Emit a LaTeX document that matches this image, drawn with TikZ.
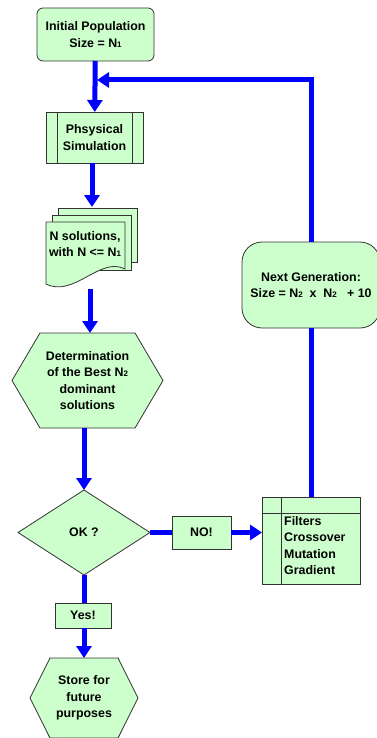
\documentclass[tikz,border=0pt]{standalone}
\usepackage{fontspec}
\setmainfont{Liberation Sans}
\usetikzlibrary{arrows.meta}
\usetikzlibrary{shapes}
\definecolor{boxgreen}{HTML}{CCFFCC}
\definecolor{flowblue}{HTML}{0000FF}
\newcommand{\nsub}[1]{{\fontsize{8pt}{8pt}\selectfont #1}}

\begin{document}
\begin{tikzpicture}[x = 1pt, y = -1pt, font=\bfseries\fontsize{12.4pt}{16.5pt}\selectfont]
	\tikzstyle{boxStyle} = [draw = black!80, line width = 0.8pt, fill = boxgreen, align = center, inner sep = 0pt, outer sep = 0pt]
	\tikzstyle{hexStyle} = [boxStyle, shape = signal, signal to = west and east]
	\tikzstyle{flowStyle} = [draw = flowblue, line width = 5pt]
	\tikzstyle{arrowStyle} = [flowStyle, -{Triangle[length = 12pt, width = 15pt]}]
	\useasboundingbox (0,0) rectangle (377,738);
	% boxes
	\node[boxStyle, rounded corners = 6pt, minimum width = 117pt, minimum height = 53pt] (init) at (95.5,34.5) {Initial Population\\Size = N\nsub{1}};
	\node[boxStyle, minimum width = 97pt, minimum height = 51pt] (sim) at (94.5,137.5) {Phsysical\\Simulation};
	\draw[black!80, line width = 0.8pt] ([xshift = 11pt]sim.north west) -- ([xshift = 11pt]sim.south west);
	\draw[black!80, line width = 0.8pt] ([xshift = -11pt]sim.north east) -- ([xshift = -11pt]sim.south east);
	\draw[boxStyle] (58,208) rectangle (137,262);
	\draw[boxStyle] (52,215) rectangle (131,270);
	\draw[boxStyle] (46,222) -- (125,222) -- (125,269) .. controls (100,256) and (74,298) .. (46,284) -- cycle;
	\node[align = center] (sols) at (85,244) {N solutions,\\with N <= N\nsub{1}};
	\coordinate (solsTop) at (92,207);
	\coordinate (solsBot) at (90,289);
	\node[hexStyle, signal pointer angle = 119, minimum width = 151pt, minimum height = 95pt] (best) at (87.5,380.5) {Determination\\of the Best N\nsub{2}\\dominant\\solutions};
	\node[boxStyle, shape = diamond, minimum width = 132pt, minimum height = 85pt] (ok) at (84,532.5) {OK ?};
	\node[boxStyle, minimum width = 59pt, minimum height = 33pt] (no) at (201.5,532.5) {NO!};
	\node[boxStyle, minimum width = 98pt, minimum height = 87pt] (ops) at (311,540.5) {};
	\draw[black!80, line width = 0.8pt] ([xshift = 19pt]ops.north west) -- ([xshift = 19pt]ops.south west);
	\draw[black!80, line width = 0.8pt] ([yshift = -16pt]ops.north west) -- ([yshift = -16pt]ops.north east);
	\node[anchor = north west, align = left, inner sep = 0pt] (opsText) at (284,516) {Filters\\Crossover\\Mutation\\Gradient};
	\node[boxStyle, rounded corners = 20pt, minimum width = 138pt, minimum height = 86pt] (next) at (311,285) {Next Generation:\\Size = N\nsub{2}~ x ~N\nsub{2} ~ + 10};
	\node[boxStyle, minimum width = 56pt, minimum height = 25pt] (yes) at (83,615.5) {Yes!};
	\node[hexStyle, signal pointer angle = 127, minimum width = 108pt, minimum height = 80pt] (store) at (84,698) {Store for\\future\\purposes};
	\coordinate (merge) at (97,80);
	% connectors
	\draw[arrowStyle] (init) -- (sim);
	\draw[arrowStyle] (sim.south -| solsTop) -- (solsTop);
	\draw[arrowStyle] (solsBot) -- (best.north -| solsBot);
	\draw[arrowStyle] (best.south -| ok.north) -- (ok.north);
	\draw[flowStyle] (ok.east) -- (no.west);
	\draw[arrowStyle] (no.east) -- (ops.west |- no.east);
	\draw[flowStyle] (ops.north) -- (next.south);
	\draw[arrowStyle] (next.north) |- (merge);
	\draw[flowStyle] (ok.south) -- (yes.north -| ok.south);
	\draw[arrowStyle] (yes.south -| ok.south) -- (store.north -| ok.south);
\end{tikzpicture}
\end{document}
